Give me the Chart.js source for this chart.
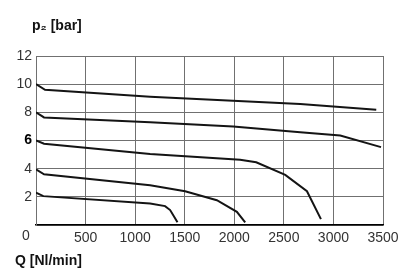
<!DOCTYPE html>
<html><head><meta charset="utf-8">
<script src="https://cdn.jsdelivr.net/npm/chart.js@4/dist/chart.umd.min.js"></script>
<style>html,body{margin:0;padding:0;background:#fff;}#wrap{width:409px;height:272px;}</style>
</head><body><div id="wrap"><canvas id="c" width="409" height="272"></canvas></div>
<script>
// Tick values
const xTicks = [0, 500, 1000, 1500, 2000, 2500, 3000, 3500];
const yTicks = [0, 2, 4, 6, 8, 10, 12];
const xTitle = 'Q [Nl/min]';
const yTitle = 'p\u2082 [bar]';

// Curves: flow Q [Nl/min] vs outlet pressure p2 [bar]
const q10 = [0, 91, 1151, 2665, 3432];
const p10 = [10.0, 9.6, 9.11, 8.59, 8.19];

const q8 = [0, 81, 1151, 1989, 2665, 3069, 3480];
const p8 = [8.0, 7.64, 7.29, 6.99, 6.59, 6.35, 5.53];

const q6 = [0, 81, 1151, 2059, 2221, 2514, 2733, 2874];
const p6 = [6.0, 5.77, 5.05, 4.64, 4.45, 3.56, 2.40, 0.42];

const q4 = [0, 81, 1151, 1504, 1824, 2026, 2110];
const p4 = [3.95, 3.6, 2.82, 2.40, 1.76, 0.94, 0.19];

const q2 = [0, 74, 1151, 1302, 1353, 1427];
const p2 = [2.3, 2.05, 1.52, 1.34, 1.06, 0.19];

const curves = [[q10, p10], [q8, p8], [q6, p6], [q4, p4], [q2, p2]];

const FONT = '"Liberation Sans", Arial, sans-serif';
const GRID = '#707070';

const textPlugin = {
  id: 'texts',
  afterDraw(chart) {
    const ctx = chart.ctx;
    ctx.save();
    ctx.fillStyle = '#111';
    ctx.textBaseline = 'middle';
    ctx.textAlign = 'left';
    ctx.font = 'bold 14px ' + FONT;
    ctx.fillText(yTitle, 32, 26);
    ctx.fillText(xTitle, 15, 261);
    ctx.font = '14px ' + FONT;
    ctx.fillStyle = '#333';
    ctx.textAlign = 'center';
    ctx.fillText('0', 26, 236);
    ctx.restore();
  }
};

new Chart(document.getElementById('c'), {
  type: 'line',
  data: {
    datasets: curves.map(([q, p]) => ({
      data: q.map((v, i) => ({x: v, y: p[i]})),
      borderColor: '#141414',
      borderWidth: 2,
      pointRadius: 0,
      tension: 0,
      fill: false
    }))
  },
  options: {
    responsive: false,
    devicePixelRatio: 1,
    animation: false,
    layout: {padding: {top: 56, right: 26, left: 0, bottom: 0}},
    plugins: {legend: {display: false}, tooltip: {enabled: false}, title: {display: false}},
    scales: {
      x: {
        type: 'linear', min: 0, max: 3500,
        afterBuildTicks: s => { s.ticks = xTicks.map(v => ({value: v})); },
        afterFit: s => { s.height = 47; },
        grid: {color: GRID, lineWidth: 1, drawTicks: false},
        border: {color: '#000', width: 1.5},
        ticks: {
          padding: 5, color: '#333', maxRotation: 0, autoSkip: false,
          font: {family: FONT, size: 14},
          callback: v => v === 0 ? '' : String(v)
        }
      },
      y: {
        type: 'linear', min: 0, max: 12,
        afterBuildTicks: s => { s.ticks = yTicks.map(v => ({value: v})); },
        afterFit: s => { s.width = 36; },
        grid: {color: GRID, lineWidth: 1, drawTicks: false},
        border: {color: GRID, width: 1},
        ticks: {
          padding: 4, autoSkip: false,
          color: c => (c.tick && c.tick.value === 6) ? '#000' : '#333',
          font: c => ({family: FONT, size: 14, weight: (c.tick && c.tick.value === 6) ? 'bold' : 'normal'}),
          callback: v => v === 0 ? '' : String(v)
        }
      }
    }
  },
  plugins: [textPlugin]
});
</script></body></html>
